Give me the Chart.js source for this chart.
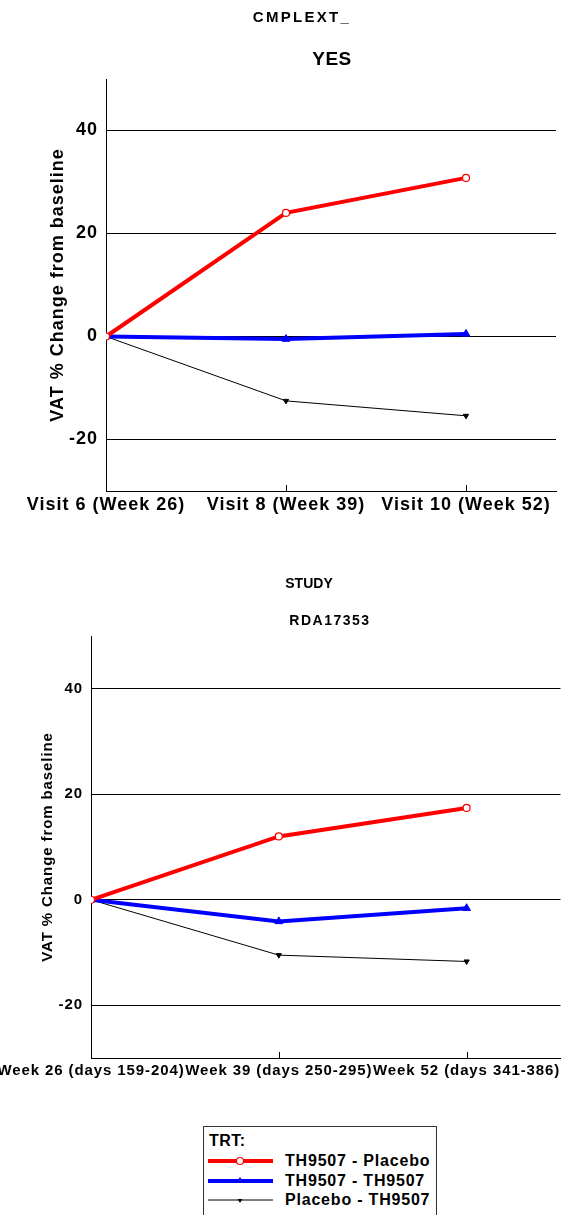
<!DOCTYPE html>
<html>
<head>
<meta charset="utf-8">
<script src="https://cdn.jsdelivr.net/npm/chart.js@4/dist/chart.umd.min.js"></script>
<style>
  body { margin: 0; background: #fff; font-family: 'Liberation Sans', Arial, sans-serif; }
  #page { position: relative; width: 566px; height: 1215px; overflow: hidden; }
  canvas { position: absolute; left: 0; }
  #legend {
    position: absolute; left: 203px; top: 1126px; width: 232px; height: 100px;
    border: 1px solid #333; font-weight: bold; font-size: 16px; color: #000;
  }
  #legend .head { position: absolute; left: 5px; top: 5px; font-size: 16px; letter-spacing: 0.5px; }
  #legend .row { position: absolute; left: 3px; height: 20px; }
  #legend svg { position: absolute; left: 0; top: 0; }
  #legend span { position: absolute; left: 78px; top: 1px; white-space: nowrap; letter-spacing: 0.8px; }
</style>
</head>
<body>
<div id="page">
  <canvas id="chartTop" width="566" height="530" style="top:0"></canvas>
  <canvas id="chartBottom" width="566" height="530" style="top:560px"></canvas>
  <div id="legend"></div>
</div>
<script>
// ---- dados ----
const topLabels = ['Visit 6 (Week 26)', 'Visit 8 (Week 39)', 'Visit 10 (Week 52)'];
const bottomLabels = ['Week 26 (days 159-204)', 'Week 39 (days 250-295)', 'Week 52 (days 341-386)'];
const seriesNames = ['TH9507 - Placebo', 'TH9507 - TH9507', 'Placebo - TH9507'];

// painel de cima (CMPLEXT_ = YES)
const topPlacebo = [0, 24.0, 30.8];
const topTh9507 = [0, -0.5, 0.5];
const topPlaceboTh = [0, -12.5, -15.4];

// painel de baixo (STUDY = RDA17353)
const bottomPlacebo = [0, 12.0, 17.4];
const bottomTh9507 = [0, -4.1, -1.6];
const bottomPlaceboTh = [0, -10.5, -11.7];

const yTickValues = [-20, 0, 20, 40];
const yMin = -30;
const yMax = 50;

Chart.defaults.font.family = "'Liberation Sans', Arial, sans-serif";
Chart.defaults.color = '#000';

// estilo de cada série (cor, espessura, marcador)
const seriesStyle = [
  { color: '#ff0000', width: 4, point: 'circle', radius: 3.5, fill: '#ffffff', pointBorder: 1.2, rotation: 0 },
  { color: '#0000ff', width: 4, point: 'triangle', radius: 4.5, fill: '#0000ff', pointBorder: 1, rotation: 0 },
  { color: '#000000', width: 1, point: 'triangle', radius: 3, fill: '#000000', pointBorder: 1, rotation: 180 }
];

function toPoints(values) {
  return values.map((v, i) => ({ x: i, y: v }));
}

// espaçamento das letras + títulos + tracinhos do eixo x (para dentro)
const extrasPlugin = {
  id: 'extras',
  beforeDraw(chart, args, opts) {
    chart.ctx.letterSpacing = opts.spacing + 'px';
  },
  afterDraw(chart, args, opts) {
    const ctx = chart.ctx;
    ctx.save();
    ctx.fillStyle = '#000';
    ctx.textAlign = 'center';
    ctx.textBaseline = 'middle';
    opts.titles.forEach(t => {
      ctx.font = 'bold ' + t.size + "px 'Liberation Sans', Arial, sans-serif";
      ctx.letterSpacing = t.spacing + 'px';
      ctx.fillText(t.text, t.x, t.y);
    });
    const xs = chart.scales.x;
    const bottom = chart.chartArea.bottom;
    ctx.strokeStyle = '#000';
    ctx.lineWidth = 1;
    xs.ticks.forEach(t => {
      const px = Math.round(xs.getPixelForValue(t.value)) + 0.5;
      ctx.beginPath();
      ctx.moveTo(px, bottom);
      ctx.lineTo(px, bottom - 6);
      ctx.stroke();
    });
    ctx.restore();
  }
};

function criarGrafico(id, labels, series, g) {
  const datasets = series.map((vals, i) => {
    const s = seriesStyle[i];
    return {
      label: seriesNames[i],
      data: toPoints(vals),
      borderColor: s.color,
      borderWidth: s.width,
      pointStyle: s.point,
      pointRadius: s.radius,
      pointRotation: s.rotation,
      pointBackgroundColor: s.fill,
      pointBorderColor: s.color,
      pointBorderWidth: s.pointBorder,
      tension: 0
    };
  });

  return new Chart(document.getElementById(id), {
    type: 'line',
    data: { datasets },
    plugins: [extrasPlugin],
    options: {
      responsive: false,
      animation: false,
      layout: { padding: { top: g.top, right: g.right, bottom: 0, left: 0 } },
      plugins: {
        legend: { display: false },
        tooltip: { enabled: false },
        extras: { titles: g.titles, spacing: g.spacing }
      },
      scales: {
        x: {
          type: 'linear',
          min: 0,
          max: labels.length - 0.5,
          grid: { display: false, drawTicks: false },
          border: { display: true, color: '#000', width: 1 },
          ticks: {
            stepSize: 1,
            autoSkip: false,
            maxRotation: 0,
            padding: g.xPad,
            font: { size: g.xFont, weight: 'bold' },
            callback: v => labels[v]
          },
          afterBuildTicks: s => { s.ticks = s.ticks.filter(t => Number.isInteger(t.value)); },
          afterFit: s => { s.height = g.xHeight; s.paddingLeft = 0; s.paddingRight = 0; }
        },
        y: {
          min: yMin,
          max: yMax,
          grid: { color: '#000', lineWidth: 1, drawTicks: false },
          border: { display: true, color: '#000', width: 1 },
          ticks: {
            padding: g.yPad,
            font: { size: g.yFont, weight: 'bold' }
          },
          afterBuildTicks: s => { s.ticks = yTickValues.map(v => ({ value: v })); },
          title: {
            display: true,
            text: 'VAT % Change from baseline',
            font: { size: g.titleFont, weight: 'bold' },
            padding: { top: g.titlePad, bottom: 0 }
          },
          afterFit: s => { s.width = g.yWidth; }
        }
      }
    }
  });
}

criarGrafico('chartTop', topLabels, [topPlacebo, topTh9507, topPlaceboTh], {
  top: 79, right: 10, xHeight: 39, yWidth: 106, xPad: 3, yPad: 8,
  xFont: 18, yFont: 18, titleFont: 18, titlePad: 47, spacing: 1.0,
  titles: [
    { text: 'CMPLEXT_', size: 15, spacing: 2.3, x: 302, y: 18 },
    { text: 'YES', size: 19, spacing: 0.5, x: 332, y: 60 }
  ]
});

criarGrafico('chartBottom', bottomLabels, [bottomPlacebo, bottomTh9507, bottomPlaceboTh], {
  top: 76, right: 2, xHeight: 32, yWidth: 91, xPad: 4, yPad: 8,
  xFont: 15, yFont: 15, titleFont: 15, titlePad: 39, spacing: 0.9,
  titles: [
    { text: 'STUDY', size: 14, spacing: 0, x: 309, y: 584 - 560 },
    { text: 'RDA17353', size: 14, spacing: 1.5, x: 330, y: 621 - 560 }
  ]
});

// legenda em HTML (TRT:)
const legenda = document.getElementById('legend');
legenda.innerHTML = '<div class="head">TRT:</div>';
seriesNames.forEach((nome, i) => {
  const s = seriesStyle[i];
  let marcador = '';
  if (i === 0) marcador = `<circle cx="33" cy="10" r="3.5" fill="#fff" stroke="${s.color}" stroke-width="1.2"/>`;
  if (i === 1) marcador = `<polygon points="33,6 37,12 29,12" fill="${s.color}"/>`;
  if (i === 2) marcador = `<polygon points="30.5,9 35.5,9 33,13" fill="${s.color}"/>`;
  legenda.innerHTML += `
    <div class="row" style="top:${24 + i * 19.5}px">
      <svg width="70" height="20"><line x1="1" y1="10" x2="66" y2="10" stroke="${s.color}" stroke-width="${s.width}"/>${marcador}</svg>
      <span>${nome}</span>
    </div>`;
});
</script>
</body>
</html>
